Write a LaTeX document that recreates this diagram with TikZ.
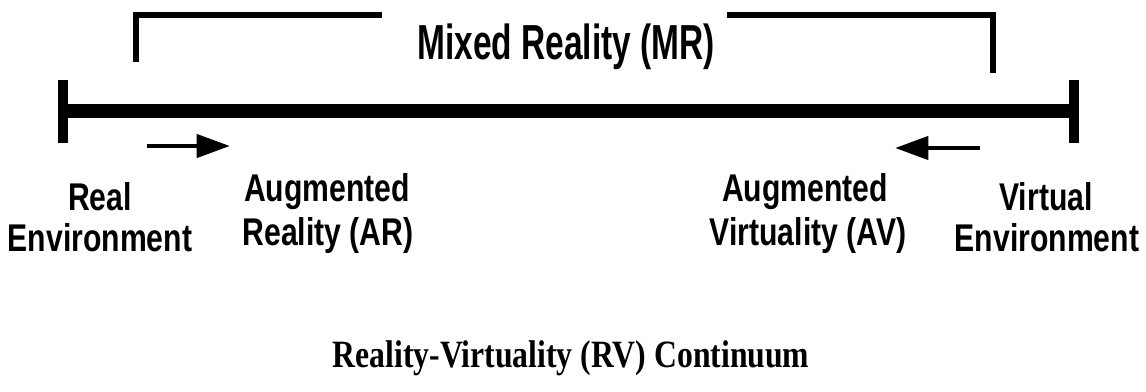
\documentclass[tikz,border=0pt]{standalone}
\usepackage{fontspec}
\setmainfont{Liberation Serif}
\newfontfamily\lblfont[FakeStretch=0.78]{Liberation Sans}
\newfontfamily\mrfont[FakeStretch=0.68]{Liberation Sans}
\newfontfamily\rvfont[FakeStretch=0.82]{Liberation Serif}
\usetikzlibrary{arrows.meta,positioning}
\tikzset{
        lbl/.style={anchor=base, inner sep=0pt,
            font=\lblfont\bfseries\fontsize{22}{20}\selectfont},
        mrlbl/.style={anchor=base, inner sep=0pt,
            font=\mrfont\bfseries\fontsize{28}{30}\selectfont},
        rvlbl/.style={anchor=base, inner sep=0pt,
            font=\rvfont\bfseries\fontsize{22}{26}\selectfont},
        bar/.style={line width=8.5pt},
        endtick/.style={line width=6pt},
        bracket/.style={line width=3.4pt},
        dirarrow/.style={line width=2.8pt, -{Triangle[length=19pt, width=13pt]}},
    }
\begin{document}
\begin{tikzpicture}[x = 0.02cm, y = -0.02cm]
                \useasboundingbox (0,0) rectangle (1146,392);
                % the continuum
                \coordinate (realend) at (63,111);
                \coordinate (virtend) at (1074,111);
                \draw[bar] (realend) -- (virtend);
                \draw[endtick] (realend) ++(0,-31) -- ++(0,63);
                \draw[endtick] (virtend) ++(0,-31) -- ++(0,63);
                % mixed reality bracket
                \node[mrlbl] (mr) at (566,59) {Mixed Reality (MR)};
                \draw[bracket] (136,62) -- (136,15) -- (382,15);
                \draw[bracket] (727,15) -- (993,15) -- (993,73);
                % labels under the bar
                \node[lbl] (real) at (100,210) {Real};
                \node[lbl] (realenv) at (100,251) {Environment};
                \node[lbl] (augr) at (327,201) {Augmented};
                \node[lbl] (ar) at (328,245) {Reality (AR)};
                \node[lbl] (augv) at (805,201) {Augmented};
                \node[lbl] (av) at (808,245) {Virtuality (AV)};
                \node[lbl] (virt) at (1046,210) {Virtual};
                \node[lbl] (virtenv) at (1047,251) {Environment};
                % arrows
                \coordinate (arfrom) at (147,146);
                \coordinate (arto) at (230,146);
                \coordinate (avfrom) at (980,148);
                \coordinate (avto) at (895,148);
                \draw[dirarrow] (arfrom) -- (arto);
                \draw[dirarrow] (avfrom) -- (avto);
                \node[rvlbl] (rv) at (571,367) {Reality-Virtuality (RV) Continuum};
            \end{tikzpicture}
\end{document}
